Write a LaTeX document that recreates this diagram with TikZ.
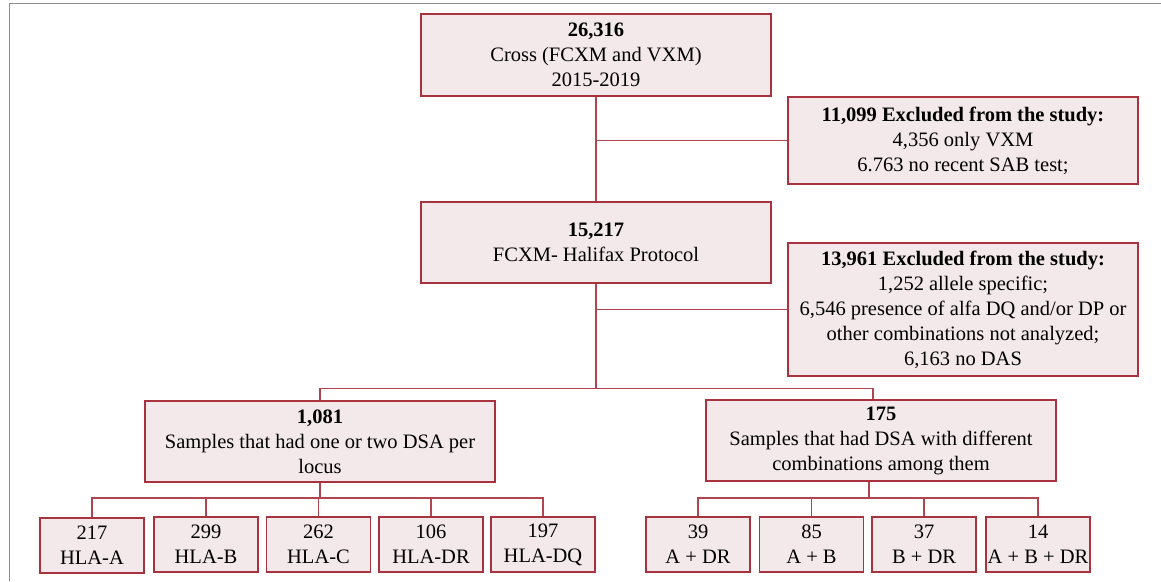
\documentclass[tikz,border=0pt]{standalone}
\usepackage{fontspec}
\setmainfont{Liberation Serif}
\definecolor{bord}{HTML}{A8323E}
\definecolor{boxfill}{HTML}{F3E9EB}
\definecolor{conn}{HTML}{B04550}
\definecolor{framegray}{HTML}{8C8C8C}
\begin{document}
\begin{tikzpicture}[x=1pt,y=-1pt,
  box/.style={draw=bord, fill=boxfill, line width=1.4pt, inner sep=0pt, align=center,
              font=\fontsize{20.5}{25}\selectfont},
  bigbox/.style={box, minimum width=350pt},
  smallbox/.style={box, minimum width=104pt, minimum height=55pt},
  link/.style={draw=conn, line width=1.4pt}]
\useasboundingbox (0,0) rectangle (1161,581);
\draw[framegray, line width=1pt] (9,581) -- (9,3.7) -- (1161,3.7);

\node[bigbox, minimum height=82pt] (top) at (596,55) {\textbf{26,316}\\Cross (FCXM and VXM)\\2015-2019};
\node[bigbox, minimum height=87pt] (ex1) at (963,140.5) {\textbf{11,099 Excluded from the study:}\\4,356 only VXM\\6.763 no recent SAB test;};
\node[bigbox, minimum height=81pt] (b2) at (596,242.5) {\textbf{15,217}\\FCXM- Halifax Protocol};
\node[bigbox, minimum height=133pt] (ex2) at (963,309.5) {\textbf{13,961 Excluded from the study:}\\1,252 allele specific;\\6,546 presence of alfa DQ and/or DP or\\other combinations not analyzed;\\6,163 no DAS};
\node[bigbox, minimum height=81pt] (g1) at (320,441.5) {\textbf{1,081}\\Samples that had one or two DSA per\\locus};
\node[bigbox, minimum height=81pt] (g2) at (881,440.5) {\textbf{175}\\Samples that had DSA with different\\combinations among them};

\node[smallbox] (a1) at (92,545.5) {217\\HLA-A};
\node[smallbox] (a2) at (206,544.5) {299\\HLA-B};
\node[smallbox] (a3) at (318.5,544.5) {262\\HLA-C};
\node[smallbox] (a4) at (431,544.5) {106\\HLA-DR};
\node[smallbox] (a5) at (543,544.5) {197\\HLA-DQ};

\node[smallbox] (c1) at (698,544.5) {39\\A + DR};
\node[smallbox] (c2) at (811.5,544.5) {85\\A + B};
\node[smallbox] (c3) at (924,544.5) {37\\B + DR};
\node[smallbox] (c4) at (1038,544.5) {14\\A + B + DR};

\draw[link] (top.south) -- (b2.north);
\draw[link] (top.south |- ex1.west) -- (ex1.west);
\draw[link] (b2.south |- ex2.west) -- (ex2.west);
\coordinate (bus) at (596,388.5);
\draw[link] (b2.south) -- (bus);
\draw[link] (g1.north) |- (bus) -| ([xshift=-8pt]g2.north);

\coordinate (lb) at (320,498);
\draw[link] (g1.south) -- (lb);
\draw[link] (a1.north) |- (lb) -| (a5.north);
\draw[link] (a2.north) -- (a2.north |- lb);
\draw[link] (a3.north) -- (a3.north |- lb);
\draw[link] (a4.north) -- (a4.north |- lb);

\coordinate (rb) at (869,498);
\draw[link] ([xshift=-12pt]g2.south) -- (rb);
\draw[link] (c1.north) |- (rb) -| (c4.north);
\draw[link] (c2.north) -- (c2.north |- rb);
\draw[link] (c3.north) -- (c3.north |- rb);
\end{tikzpicture}
\end{document}
